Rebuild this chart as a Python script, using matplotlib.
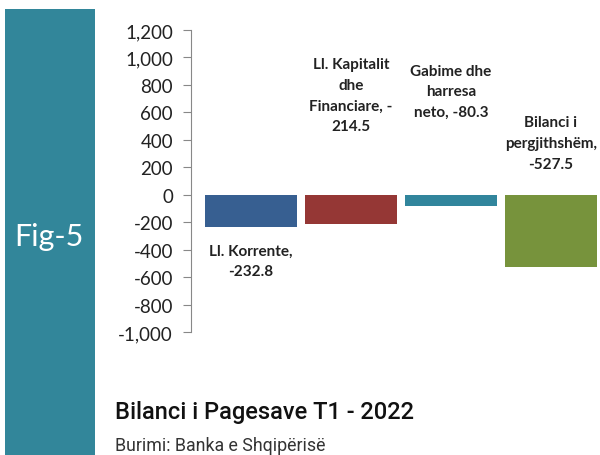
import matplotlib
matplotlib.use("Agg")
import matplotlib.pyplot as plt
from matplotlib.patches import Rectangle

categories = ["Ll. Korrente", "Ll. Kapitalit dhe Financiare", "Gabime dhe harresa neto", "Bilanci i pergjithshëm"]
values = [-232.8, -214.5, -80.3, -527.5]
label_texts = ["Ll. Korrente,\n-232.8", "Ll. Kapitalit\ndhe\nFinanciare, -\n214.5",
               "Gabime dhe\nharresa\nneto, -80.3", "Bilanci i\npergjithshëm,\n-527.5"]
yticks = [-1000, -800, -600, -400, -200, 0, 200, 400, 600, 800, 1000, 1200]
colors = ["#375F91", "#953735", "#31859C", "#77933C"]

W, H = 600, 456
fig = plt.figure(figsize=(W/100, H/100), dpi=100)
fig.patch.set_facecolor("white")

# sidebar
fig.patches.append(Rectangle((5/W, 0), 90/W, 1 - 10/H, transform=fig.transFigure,
                             facecolor="#32869A", edgecolor="none", zorder=0))
fig.text(49/W, 1 - 237/H, "Fig-5", color="white", fontsize=22, family="Lato",
         ha="center", va="center")

ax = fig.add_axes([191/W, 1 - 333/H, 409/W, (333 - 31)/H])
x = list(range(len(values)))
ax.bar(x, values, width=0.92, color=colors)
ax.set_xlim(-0.6, 3.49)
ax.set_ylim(-1000, 1200)
ax.set_yticks(yticks)
ax.set_yticklabels([f"{v:,}" for v in yticks], family="Lato", fontsize=13.5, color="#222222")
ax.tick_params(axis="y", length=6, color="#888888", pad=7)
ax.set_xticks([])
for s in ["top", "right", "bottom"]:
    ax.spines[s].set_visible(False)
ax.spines["left"].set_color("#888888")

# data labels (positions in data units)
label_pos = [(0, -355), (1, 1000), (2, 955), (3, 578)]
for (xi, yi), t in zip(label_pos, label_texts):
    ax.text(xi, yi, t, ha="center", va="top", family="Lato", fontweight="bold",
            fontsize=11, color="#222222", linespacing=1.6)

fig.text(115/W, 1 - 413/H, "Bilanci i Pagesave T1 - 2022", fontsize=17, family="Roboto",
         fontweight="medium", ha="left", va="center", color="#111111")
fig.text(115/W, 1 - 446/H, "Burimi: Banka e Shqipërisë", fontsize=12.8, family="Roboto",
         ha="left", va="center", color="#333333")

fig.savefig("out.png", dpi=100)
